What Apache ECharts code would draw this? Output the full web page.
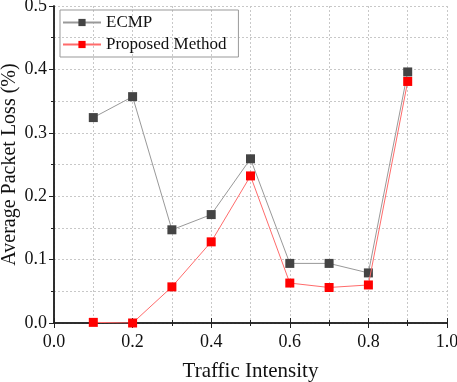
<!DOCTYPE html>
<html>
<head>
<meta charset="utf-8">
<script src="https://cdn.jsdelivr.net/npm/echarts@6/dist/echarts.min.js"></script>
<style>
    html, body { margin: 0; padding: 0; background: #fff; }
    #chart { width: 457px; height: 382px; }
</style>
</head>
<body>
<div id="chart"></div>
<script>
// traffic intensity values on the x axis
const intensity = [0.1, 0.2, 0.3, 0.4, 0.5, 0.6, 0.7, 0.8, 0.9];
// average packet loss (%)
const ecmpLoss = [0.324, 0.357, 0.147, 0.171, 0.259, 0.094, 0.094, 0.079, 0.396];
const proposedLoss = [0.001, 0.000, 0.057, 0.128, 0.232, 0.063, 0.056, 0.060, 0.381];

const font = '"Liberation Serif", "Times New Roman", serif';

function pairs(ys) {
    return intensity.map((x, i) => [x, ys[i]]);
}

const gridLine = {show: true, lineStyle: {color: '#c8c8c8', type: [2, 2], width: 1}};
const axisLine = {show: true, lineStyle: {color: '#222', width: 1.5}};
// left / bottom ticks point outward, mirrored right axis points inward
const tickOut = {show: true, inside: false, length: 5, lineStyle: {color: '#222'}};
const tickIn = {show: true, inside: true, length: 5, lineStyle: {color: '#222'}};
const minor = {show: true, splitNumber: 2, length: 3, lineStyle: {color: '#222'}};

let myChart = echarts.init(document.getElementById('chart'), null, {renderer: 'canvas'});

let option = {
    backgroundColor: '#fff',
    animation: false,
    textStyle: {fontFamily: font},
    grid: {left: 54, right: 10, top: 6, bottom: 59, outerBoundsMode: 'none', containLabel: false},
    legend: {
        orient: 'vertical',
        left: 60,
        top: 10,
        itemWidth: 38,
        itemHeight: 9,
        itemGap: 5,
        padding: [4, 12, 4, 2],
        borderColor: '#999',
        borderWidth: 1,
        textStyle: {fontFamily: font, fontSize: 17, color: '#111'},
        data: ['ECMP', 'Proposed Method']
    },
    xAxis: [
        {
            type: 'value',
            min: 0,
            max: 1,
            interval: 0.2,
            name: 'Traffic Intensity',
            nameLocation: 'middle',
            nameGap: 38,
            nameMoveOverlap: false,
            nameTextStyle: {fontFamily: font, fontSize: 21, color: '#111'},
            axisLine: axisLine,
            axisTick: tickOut,
            minorTick: minor,
            axisLabel: {fontFamily: font, fontSize: 18, color: '#111', margin: 10,
                formatter: v => v.toFixed(1)},
            splitLine: gridLine,
            minorSplitLine: gridLine
        },
        {
            type: 'value',
            position: 'top',
            min: 0,
            max: 1,
            interval: 0.2,
            axisLine: axisLine,
            axisTick: tickOut,
            minorTick: minor,
            axisLabel: {show: false},
            splitLine: {show: false}
        }
    ],
    yAxis: [
        {
            type: 'value',
            min: 0,
            max: 0.5,
            interval: 0.1,
            name: 'Average Packet Loss (%)',
            nameLocation: 'middle',
            nameGap: 34,
            nameMoveOverlap: false,
            nameTextStyle: {fontFamily: font, fontSize: 20, color: '#111'},
            axisLine: axisLine,
            axisTick: tickOut,
            minorTick: minor,
            axisLabel: {fontFamily: font, fontSize: 18, color: '#111', margin: 7,
                formatter: v => v.toFixed(1)},
            splitLine: gridLine,
            minorSplitLine: gridLine
        },
        {
            type: 'value',
            position: 'right',
            min: 0,
            max: 0.5,
            interval: 0.1,
            axisLine: axisLine,
            axisTick: tickIn,
            minorTick: minor,
            axisLabel: {show: false},
            splitLine: {show: false}
        }
    ],
    series: [
        {
            name: 'ECMP',
            type: 'line',
            data: pairs(ecmpLoss),
            symbol: 'rect',
            symbolSize: 9,
            itemStyle: {color: '#444'},
            lineStyle: {color: '#999', width: 1},
            z: 3
        },
        {
            name: 'Proposed Method',
            type: 'line',
            data: pairs(proposedLoss),
            symbol: 'rect',
            symbolSize: 9,
            itemStyle: {color: '#ff0000'},
            lineStyle: {color: '#ff6b6b', width: 1},
            z: 4
        }
    ]
};
myChart.setOption(option);
</script>
</body>
</html>
